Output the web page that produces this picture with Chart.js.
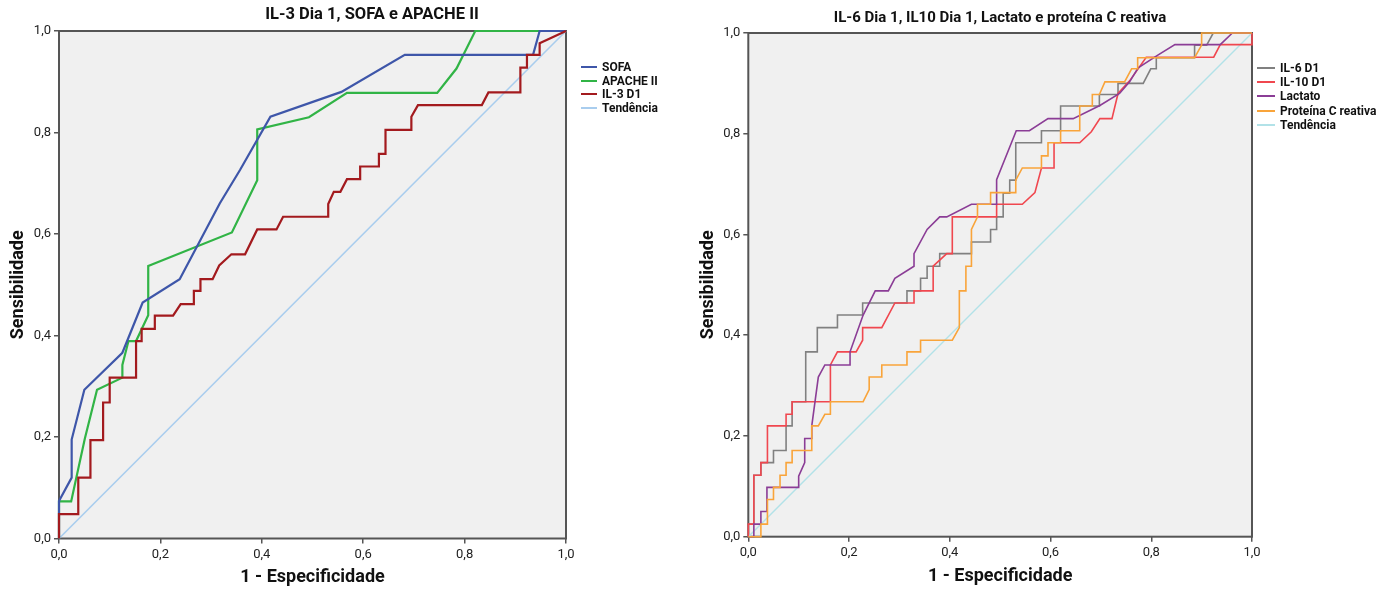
<!DOCTYPE html>
<html>
<head>
<meta charset="utf-8">
<script src="https://cdn.jsdelivr.net/npm/chart.js@4.4.1/dist/chart.umd.min.js"></script>
<style>
    html, body { margin: 0; padding: 0; background: #fff; }
    body { width: 1384px; height: 590px; position: relative; overflow: hidden;
           font-family: 'Liberation Sans Narrow', 'Roboto', sans-serif; }
    .wrap { position: absolute; top: 0; height: 590px; }
    #left-wrap { left: 0; width: 744px; }
    #right-wrap { left: 692px; width: 616px; }
    .legend { position: absolute; margin: 0; padding: 0; list-style: none;
              font-weight: bold; font-size: 12px; color: #111; }
    .legend li { display: flex; align-items: center; white-space: nowrap; }
    .legend .swatch { display: inline-block; margin-right: 5px; }
    #left-legend { left: 581px; top: 60px; }
    #left-legend li { height: 13.7px; }
    #right-legend { left: 1257px; top: 61px; }
    #right-legend li { height: 14.2px; }
</style>
</head>
<body>
<div class="wrap" id="left-wrap"><canvas id="roc-left"></canvas></div>
<div class="wrap" id="right-wrap"><canvas id="roc-right"></canvas></div>
<ul class="legend" id="left-legend"></ul>
<ul class="legend" id="right-legend"></ul>
<script>
// tick labels for both axes of both charts
const tickLabels = ['0,0', '0,2', '0,4', '0,6', '0,8', '1,0'];

// left chart: IL-3 Dia 1, SOFA e APACHE II  ([1 - especificidade, sensibilidade])
const sofa = [[0, 0], [0, 0.074], [0.025, 0.12], [0.025, 0.195], [0.05, 0.293], [0.125, 0.366],
    [0.165, 0.465], [0.238, 0.511], [0.317, 0.66], [0.357, 0.726], [0.417, 0.831], [0.557, 0.88],
    [0.682, 0.953], [0.935, 0.953], [0.948, 1], [1, 1]];
const apache = [[0, 0], [0, 0.073], [0.024, 0.073], [0.051, 0.197], [0.075, 0.293], [0.125, 0.317],
    [0.125, 0.342], [0.137, 0.389], [0.152, 0.389], [0.176, 0.44], [0.176, 0.537], [0.341, 0.603],
    [0.391, 0.706], [0.391, 0.806], [0.493, 0.83], [0.568, 0.878], [0.746, 0.878], [0.784, 0.926],
    [0.821, 1], [1, 1]];
const il3 = [[0, 0], [0, 0.048], [0.038, 0.048], [0.038, 0.12], [0.062, 0.12], [0.062, 0.194],
    [0.087, 0.194], [0.087, 0.268], [0.1, 0.268], [0.1, 0.317], [0.152, 0.317], [0.152, 0.389],
    [0.163, 0.389], [0.163, 0.413], [0.189, 0.413], [0.189, 0.439], [0.225, 0.439], [0.24, 0.462],
    [0.266, 0.462], [0.266, 0.488], [0.279, 0.488], [0.279, 0.511], [0.303, 0.511], [0.316, 0.538],
    [0.34, 0.56], [0.367, 0.56], [0.391, 0.609], [0.429, 0.609], [0.442, 0.634], [0.531, 0.634],
    [0.531, 0.659], [0.542, 0.683], [0.555, 0.683], [0.568, 0.708], [0.594, 0.708], [0.594, 0.733],
    [0.631, 0.733], [0.631, 0.758], [0.644, 0.758], [0.644, 0.805], [0.695, 0.805], [0.695, 0.831],
    [0.708, 0.854], [0.834, 0.854], [0.847, 0.879], [0.91, 0.879], [0.91, 0.928], [0.923, 0.928],
    [0.923, 0.953], [0.948, 0.953], [0.948, 0.976], [1, 1]];

// right chart: IL-6 Dia 1, IL10 Dia 1, Lactato e proteína C reativa
const il6 = [[0, 0], [0, 0.025], [0.011, 0.025], [0.011, 0.122], [0.025, 0.122], [0.025, 0.147],
    [0.05, 0.147], [0.05, 0.171], [0.075, 0.171], [0.075, 0.22], [0.087, 0.22], [0.087, 0.268],
    [0.114, 0.268], [0.114, 0.367], [0.137, 0.367], [0.137, 0.415], [0.177, 0.415], [0.177, 0.44],
    [0.227, 0.44], [0.227, 0.464], [0.315, 0.464], [0.315, 0.488], [0.342, 0.488], [0.342, 0.513],
    [0.355, 0.513], [0.355, 0.537], [0.38, 0.537], [0.38, 0.562], [0.443, 0.562], [0.443, 0.585],
    [0.481, 0.585], [0.481, 0.61], [0.493, 0.61], [0.493, 0.635], [0.506, 0.635], [0.506, 0.682],
    [0.519, 0.682], [0.519, 0.708], [0.531, 0.708], [0.531, 0.782], [0.582, 0.782], [0.582, 0.806],
    [0.62, 0.806], [0.62, 0.855], [0.697, 0.855], [0.697, 0.878], [0.734, 0.878], [0.734, 0.9],
    [0.784, 0.9], [0.799, 0.929], [0.81, 0.929], [0.81, 0.951], [0.886, 0.951], [0.886, 0.976],
    [0.91, 0.976], [0.923, 1], [1, 1]];
const il10 = [[0, 0], [0, 0.025], [0.011, 0.025], [0.011, 0.122], [0.025, 0.122], [0.025, 0.147],
    [0.038, 0.147], [0.038, 0.22], [0.075, 0.22], [0.075, 0.243], [0.087, 0.243], [0.087, 0.268],
    [0.163, 0.268], [0.163, 0.341], [0.177, 0.367], [0.214, 0.367], [0.227, 0.39], [0.227, 0.415],
    [0.265, 0.415], [0.291, 0.464], [0.329, 0.464], [0.329, 0.488], [0.367, 0.488], [0.367, 0.537],
    [0.394, 0.562], [0.405, 0.562], [0.405, 0.635], [0.493, 0.635], [0.493, 0.66], [0.544, 0.66],
    [0.569, 0.683], [0.582, 0.732], [0.607, 0.732], [0.607, 0.782], [0.658, 0.782], [0.681, 0.804],
    [0.698, 0.83], [0.722, 0.83], [0.734, 0.88], [0.757, 0.905], [0.79, 0.952], [0.924, 0.952],
    [0.937, 0.977], [1, 0.977], [1, 1]];
const lactato = [[0, 0], [0.011, 0], [0.011, 0.025], [0.025, 0.025], [0.025, 0.05], [0.037, 0.05],
    [0.037, 0.098], [0.099, 0.098], [0.1, 0.12], [0.112, 0.147], [0.112, 0.195], [0.126, 0.195],
    [0.126, 0.22], [0.139, 0.317], [0.152, 0.341], [0.202, 0.341], [0.202, 0.367], [0.228, 0.44],
    [0.252, 0.488], [0.278, 0.488], [0.291, 0.513], [0.329, 0.537], [0.329, 0.562], [0.355, 0.61],
    [0.38, 0.635], [0.394, 0.635], [0.443, 0.66], [0.493, 0.66], [0.493, 0.709], [0.532, 0.806],
    [0.558, 0.806], [0.595, 0.83], [0.645, 0.83], [0.698, 0.856], [0.737, 0.88], [0.757, 0.903],
    [0.774, 0.931], [0.813, 0.956], [0.847, 0.977], [0.937, 0.977], [0.961, 1], [1, 1]];
const pcr = [[0, 0], [0.025, 0], [0.025, 0.025], [0.038, 0.025], [0.038, 0.074], [0.05, 0.074],
    [0.05, 0.098], [0.063, 0.098], [0.063, 0.122], [0.075, 0.122], [0.075, 0.147], [0.087, 0.147],
    [0.087, 0.171], [0.126, 0.171], [0.126, 0.22], [0.139, 0.22], [0.152, 0.243], [0.163, 0.243],
    [0.163, 0.268], [0.228, 0.268], [0.24, 0.292], [0.24, 0.317], [0.265, 0.317], [0.265, 0.341],
    [0.315, 0.341], [0.315, 0.367], [0.342, 0.367], [0.342, 0.39], [0.405, 0.39], [0.419, 0.415],
    [0.419, 0.488], [0.432, 0.488], [0.432, 0.537], [0.443, 0.537], [0.443, 0.61], [0.455, 0.635],
    [0.455, 0.66], [0.481, 0.66], [0.481, 0.683], [0.531, 0.683], [0.531, 0.708], [0.544, 0.732],
    [0.582, 0.732], [0.582, 0.756], [0.595, 0.756], [0.595, 0.782], [0.62, 0.782], [0.62, 0.806],
    [0.658, 0.806], [0.658, 0.855], [0.683, 0.855], [0.683, 0.878], [0.697, 0.878], [0.708, 0.903],
    [0.747, 0.903], [0.761, 0.929], [0.773, 0.929], [0.773, 0.951], [0.886, 0.951], [0.9, 0.976],
    [0.9, 1], [1, 1]];

// reference line
const tendencia = [[0, 0], [1, 1]];

const FONT = "'Liberation Sans Narrow', 'Roboto', sans-serif";
const AXIS_COLOR = '#555';

const toXY = (pts) => pts.map(([x, y]) => ({ x, y }));

// plot background + frame, drawn under the curves
const framePlugin = {
    id: 'frame',
    beforeDraw(chart) {
        const { ctx, chartArea: a } = chart;
        ctx.save();
        ctx.fillStyle = '#f0f0f0';
        ctx.fillRect(a.left, a.top, a.right - a.left, a.bottom - a.top);
        ctx.restore();
    },
    beforeDatasetsDraw(chart) {
        const { ctx, chartArea: a } = chart;
        ctx.save();
        ctx.strokeStyle = AXIS_COLOR;
        ctx.lineWidth = 2;
        ctx.strokeRect(a.left, a.top, a.right - a.left, a.bottom - a.top);
        ctx.restore();
    }
};

// legend as html list, built from the chart's datasets
const htmlLegend = {
    id: 'htmlLegend',
    afterUpdate(chart, args, options) {
        const list = document.getElementById(options.containerID);
        list.innerHTML = '';
        chart.data.datasets.forEach((ds) => {
            const li = document.createElement('li');
            const sw = document.createElement('span');
            sw.className = 'swatch';
            sw.style.width = options.swatchWidth + 'px';
            sw.style.height = '2px';
            sw.style.background = ds.borderColor;
            li.appendChild(sw);
            li.appendChild(document.createTextNode(ds.label));
            list.appendChild(li);
        });
    }
};

function makeRocChart(canvasId, datasets, opts) {
    const canvas = document.getElementById(canvasId);
    const config = {
        type: 'line',
        data: { datasets },
        options: {
            responsive: true,
            maintainAspectRatio: false,
            animation: false,
            events: [],
            layout: { padding: 0 },
            elements: { point: { radius: 0 }, line: { tension: 0 } },
            plugins: {
                legend: { display: false },
                tooltip: { enabled: false },
                htmlLegend: { containerID: opts.legendId, swatchWidth: opts.swatchWidth },
                title: {
                    display: true,
                    text: opts.title,
                    color: '#111',
                    font: { family: FONT, size: opts.titleSize, weight: 'bold', lineHeight: 1.2 },
                    padding: opts.titlePadding,
                },
            },
            scales: {
                x: {
                    type: 'linear',
                    min: 0,
                    max: 1,
                    afterFit: (scale) => { scale.height = opts.xAxisHeight; },
                    ticks: {
                        stepSize: 0.2,
                        color: '#222',
                        padding: 3,
                        maxRotation: 0,
                        font: { family: FONT, size: 13 },
                        callback: (v, i) => tickLabels[i],
                    },
                    grid: { drawOnChartArea: false, drawTicks: true, tickLength: 5, color: AXIS_COLOR, lineWidth: 1.5 },
                    border: { display: false },
                    title: {
                        display: true,
                        text: '1 - Especificidade',
                        color: '#111',
                        font: { family: FONT, size: 18, weight: 'bold', lineHeight: 1.2 },
                        padding: { top: 0, bottom: opts.xTitlePad },
                    },
                },
                y: {
                    type: 'linear',
                    position: 'left',
                    min: 0,
                    max: 1,
                    afterFit: (scale) => { scale.width = opts.yAxisWidth; },
                    ticks: {
                        stepSize: 0.2,
                        color: '#222',
                        padding: 3,
                        font: { family: FONT, size: 13 },
                        callback: (v, i) => tickLabels[i],
                    },
                    grid: { drawOnChartArea: false, drawTicks: true, tickLength: 5, color: AXIS_COLOR, lineWidth: 1.5 },
                    border: { display: false },
                    title: {
                        display: true,
                        text: 'Sensibilidade',
                        color: '#111',
                        font: { family: FONT, size: 18, weight: 'bold', lineHeight: 1.2 },
                        padding: { top: opts.yTitlePad, bottom: 0 },
                    },
                },
                // empty strip on the right that holds the legend
                spacer: {
                    type: 'linear',
                    position: 'right',
                    display: true,
                    afterFit: (scale) => { scale.width = opts.rightWidth; },
                    ticks: { display: false },
                    grid: { display: false },
                    border: { display: false },
                },
            },
        },
        plugins: [framePlugin, htmlLegend],
    };
    return new Chart(canvas, config);
}

function line(label, pts, color, width, order) {
    return { label, data: toXY(pts), borderColor: color, backgroundColor: color,
             borderWidth: width, clip: false, order };
}

makeRocChart('roc-left', [
    line('SOFA', sofa, '#3e56a9', 2.2, 1),
    line('APACHE II', apache, '#31b446', 2.2, 2),
    line('IL-3 D1', il3, '#a31a1e', 2.2, 0),
    line('Tendência', tendencia, '#a9cdee', 1.6, 3),
], {
    title: 'IL-3 Dia 1, SOFA e APACHE II',
    titleSize: 16.5,
    titlePadding: { top: 5.1, bottom: 6.1 },
    legendId: 'left-legend',
    swatchWidth: 16,
    xAxisHeight: 51.5,
    xTitlePad: 2.2,
    yAxisWidth: 59,
    yTitlePad: 7.2,
    rightWidth: 178,
});

makeRocChart('roc-right', [
    line('IL-6 D1', il6, '#808080', 1.6, 3),
    line('IL-10 D1', il10, '#f0474f', 1.6, 2),
    line('Lactato', lactato, '#8b3d96', 1.6, 1),
    line('Proteína C reativa', pcr, '#f9a43a', 1.6, 0),
    line('Tendência', tendencia, '#b2e2e8', 1.4, 4),
], {
    title: 'IL-6 Dia 1, IL10 Dia 1, Lactato e proteína C reativa',
    titleSize: 15,
    titlePadding: { top: 9, bottom: 6 },
    legendId: 'right-legend',
    swatchWidth: 18,
    xAxisHeight: 53.3,
    xTitlePad: 3.2,
    yAxisWidth: 56.3,
    yTitlePad: 5.2,
    rightWidth: 56,
});
</script>
</body>
</html>
